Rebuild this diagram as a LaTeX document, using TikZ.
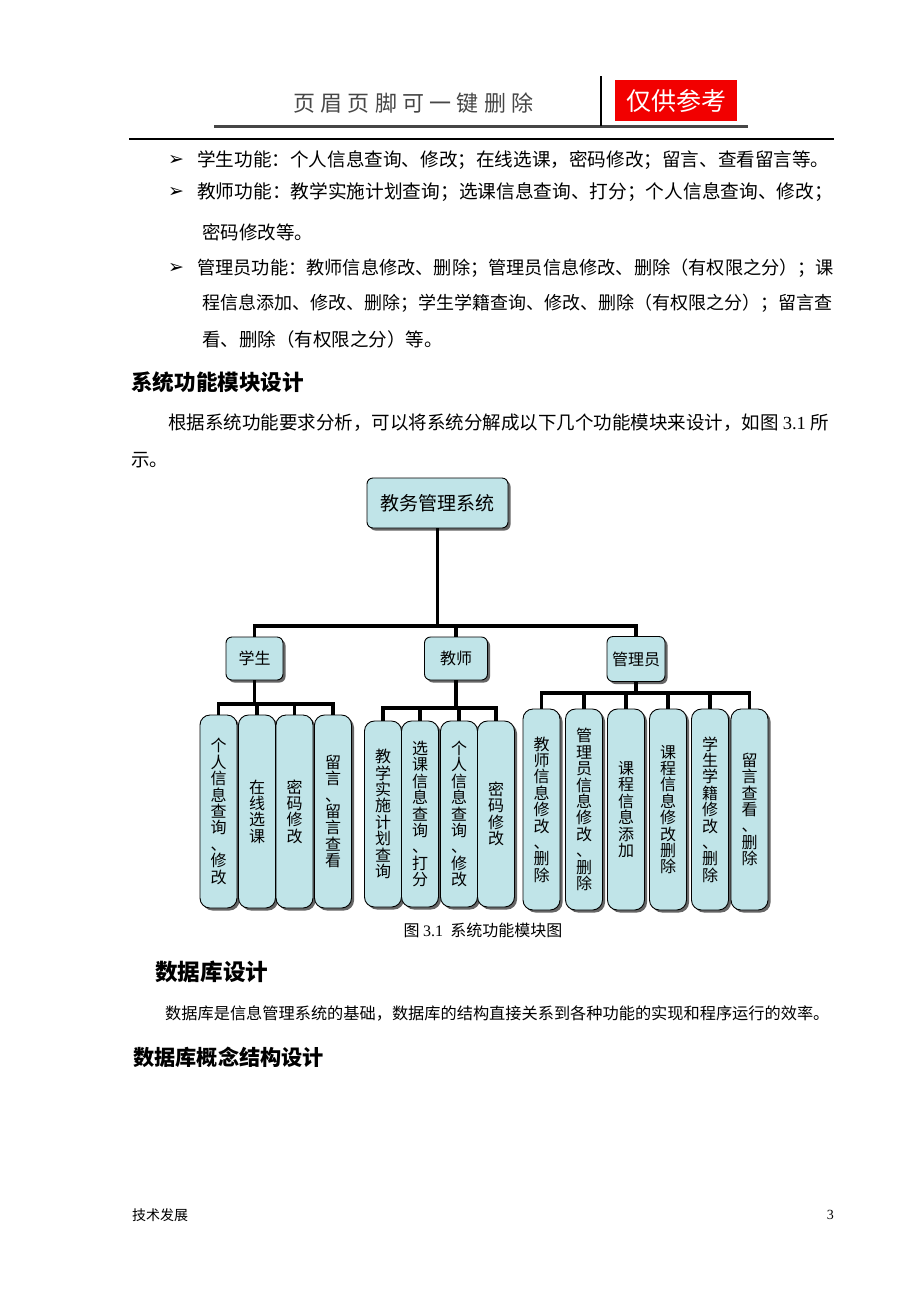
\documentclass[tikz,border=0pt]{standalone}
\usepackage{fontspec}
\setmainfont{Liberation Serif}
\newfontfamily\cjk{Noto Sans CJK SC}
\newfontfamily\dejavu{DejaVu Sans}
\usetikzlibrary{shadows}
\definecolor{boxfill}{RGB}{192,228,232}
\definecolor{headred}{RGB}{242,0,0}
\definecolor{headgray}{RGB}{70,70,70}

\begin{document}
\begin{tikzpicture}[
    x=1pt, y=-1pt,
    txt/.style={anchor=west, inner sep=0pt, font=\cjk\fontsize{#1}{#1}\selectfont}, % 正文
    head/.style={anchor=west, inner sep=0pt, font=\cjk\bfseries\fontsize{#1}{#1}\selectfont}, % 标题
    bullet/.style={anchor=west, inner sep=0pt, font=\dejavu\fontsize{19}{19}\selectfont},
    box/.style={draw=black, line width=0.9pt, fill=boxfill, rounded corners=6pt, inner sep=0pt,
        drop shadow={shadow xshift=2.5pt, shadow yshift=-2.5pt, fill=black!60, opacity=1},
        font=\cjk\fontsize{16}{16}\selectfont}, % 模块框
    leaf/.style={box, rounded corners=10pt, minimum width=37pt, align=center,
        font=\cjk\fontsize{16}{16.4}\selectfont}, % 竖排子模块
    conn/.style={line width=3.2pt, black} % 连线
]

    \fill[white] (0,0) rectangle (920,1302);
    \useasboundingbox (0,0) rectangle (920,1302);

    % 页眉
    \node[txt=22, text=headgray] (hdr) at (293,103)
        {\addfontfeatures{LetterSpace=24}页眉页脚可一键删除};
    \node[fill=headred, text=white, minimum width=122pt, minimum height=41pt, inner sep=0pt,
        font=\cjk\fontsize{25}{25}\selectfont] (ref) at (676,100.5) {仅供参考};
    \draw[line width=3pt, headgray] (214,126) -- (748,126);
    \draw[line width=2pt] (601,76) -- (601,126);
    \draw[line width=1.3pt] (129,139) -- (834,139);

    % 功能列表
    \node[bullet] (p1) at (168,160) {➢};
    \node[txt=18.6] (l1) at (197,160) {学生功能：个人信息查询、修改；在线选课，密码修改；留言、查看留言等。};
    \node[bullet] (p2) at (168,192) {➢};
    \node[txt=18.7] (l2) at (197,192) {教师功能：教学实施计划查询；选课信息查询、打分；个人信息查询、修改；};
    \node[txt=18.5] (l3) at (202,232) {密码修改等。};
    \node[bullet] (p3) at (168,268) {➢};
    \node[txt=18.2] (l4) at (197,268) {管理员功能：教师信息修改、删除；管理员信息修改、删除（有权限之分）；课};
    \node[txt=18.0] (l5) at (202,303) {程信息添加、修改、删除；学生学籍查询、修改、删除（有权限之分）；留言查};
    \node[txt=18.5] (l6) at (202,339) {看、删除（有权限之分）等。};

    \node[head=21.6] (h1) at (131,382) {系统功能模块设计};
    \node[txt=18.5] (l7) at (168,423) {根据系统功能要求分析，可以将系统分解成以下几个功能模块来设计，如图 {\rmfamily 3.1} 所};
    \node[txt=18.5] (l8) at (131,460) {示。};

    % 模块图
    \node[box, minimum width=141pt, minimum height=50pt, font=\cjk\fontsize{19}{19}\selectfont]
        (root) at (437.5,503) {教务管理系统};
    \node[box, minimum width=57pt, minimum height=43pt] (stu) at (254.5,658.5) {学生};
    \node[box, minimum width=63pt, minimum height=43pt] (tea) at (456,658.5) {教师};
    \node[box, minimum width=58pt, minimum height=45pt] (adm) at (636,659) {管理员};

    % 学生
    \node[leaf, minimum height=193pt] (s1) at (218.5,811.5) {个\\人\\信\\息\\查\\询\\、\\修\\改};
    \node[leaf, minimum height=193pt] (s2) at (257,811.5) {在\\线\\选\\课};
    \node[leaf, minimum height=193pt] (s3) at (294.5,811.5) {密\\码\\修\\改};
    \node[leaf, minimum height=193pt] (s4) at (333,811.5) {留\\言\\、\\留\\言\\查\\看};

    % 教师
    \node[leaf, minimum height=186pt] (t1) at (383,814) {教\\学\\实\\施\\计\\划\\查\\询};
    \node[leaf, minimum height=186pt] (t2) at (420,814) {选\\课\\信\\息\\查\\询\\、\\打\\分};
    \node[leaf, minimum height=186pt] (t3) at (459,814) {个\\人\\信\\息\\查\\询\\、\\修\\改};
    \node[leaf, minimum height=186pt] (t4) at (496,814) {密\\码\\修\\改};

    % 管理员
    \node[leaf, minimum height=201pt] (a1) at (541.5,809.5) {教\\师\\信\\息\\修\\改\\、\\删\\除};
    \node[leaf, minimum height=201pt] (a2) at (584,809.5) {管\\理\\员\\信\\息\\修\\改\\、\\删\\除};
    \node[leaf, minimum height=201pt] (a3) at (626,809.5) {课\\程\\信\\息\\添\\加};
    \node[leaf, minimum height=201pt] (a4) at (668,809.5) {课\\程\\信\\息\\修\\改\\删\\除};
    \node[leaf, minimum height=201pt] (a5) at (710,809.5) {学\\生\\学\\籍\\修\\改\\、\\删\\除};
    \node[leaf, minimum height=201pt] (a6) at (749.5,809.5) {留\\言\\查\\看\\、\\删\\除};

    % 连线
    \coordinate (rootbar) at (437.5,626);
    \draw[conn] (root.south) -- (rootbar) -| (stu.north);
    \draw[conn] (rootbar) -| (adm.north);
    \draw[conn] (rootbar -| tea.north) -- (tea.north);

    \coordinate (stubar) at (254.5,704);
    \draw[conn] (stu.south) -- (stubar);
    \foreach \n in {s1,s2,s3,s4}
        \draw[conn] (stubar) -| (\n.north);

    \coordinate (teabar) at (456,708);
    \draw[conn] (tea.south) -- (teabar);
    \foreach \n in {t1,t2,t3,t4}
        \draw[conn] (teabar) -| (\n.north);

    \coordinate (admbar) at (636,693);
    \draw[conn] (adm.south) -- (admbar);
    \foreach \n in {a1,a2,a3,a4,a5,a6}
        \draw[conn] (admbar) -| (\n.north);

    \node[anchor=center, inner sep=0pt, font=\cjk\fontsize{16}{16}\selectfont] (cap) at (483,930)
        {图 {\rmfamily 3.1}\ \ 系统功能模块图};

    % 数据库设计
    \node[head=22.6] (h2) at (155,972) {数据库设计};
    \node[txt=16.2] (l9) at (165,1013) {数据库是信息管理系统的基础，数据库的结构直接关系到各种功能的实现和程序运行的效率。};
    \node[head=21.2] (h3) at (133,1057) {数据库概念结构设计};

    % 页脚
    \node[txt=14] (foot) at (132,1215) {技术发展};
    \node[anchor=east, inner sep=0pt, font=\rmfamily\fontsize{14}{14}\selectfont] (pg) at (834,1215) {3};

\end{tikzpicture}
\end{document}
